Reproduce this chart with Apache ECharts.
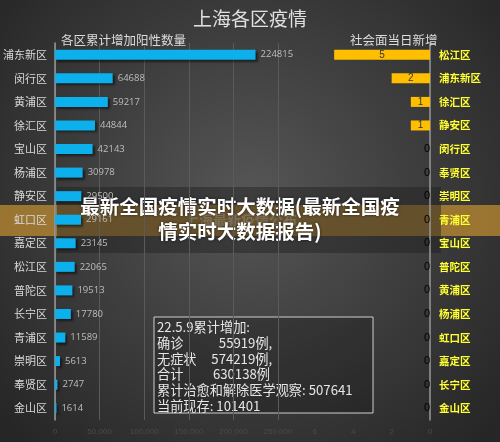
<!DOCTYPE html>
<html><head><meta charset="utf-8">
<script src="https://cdn.jsdelivr.net/npm/echarts@6/dist/echarts.min.js"></script>
<style>html,body{margin:0;padding:0;}#c{width:500px;height:442px;}</style>
</head><body><div id="c"></div>
<script>
const leftCats = ['浦东新区','闵行区','黄浦区','徐汇区','宝山区','杨浦区','静安区','虹口区','嘉定区','松江区','普陀区','长宁区','青浦区','崇明区','奉贤区','金山区'];
const leftVals = [224815,64688,59217,44844,42143,30978,29500,29161,23145,22065,19513,17780,11589,5613,2747,1614];
const rightCats = ['松江区','浦东新区','徐汇区','静安区','闵行区','奉贤区','崇明区','青浦区','宝山区','普陀区','黄浦区','杨浦区','虹口区','嘉定区','长宁区','金山区'];
const rightVals = [5,2,1,1,0,0,0,0,0,0,0,0,0,0,0,0];
const infoLines = ['22.5.9累计增加:','确诊            55919例,','无症状     574219例,','合计          630138例','累计治愈和解除医学观察: 507641','当前现存: 101401'];
const font = '"Noto Sans CJK SC", sans-serif';
const chart = echarts.init(document.getElementById('c'));
chart.setOption({
  backgroundColor: {type:'radial',x:0.5,y:0.45,r:0.75,colorStops:[{offset:0,color:'#565656'},{offset:1,color:'#262626'}]},
  title: [
    {text:'上海各区疫情',left:'center',top:4,textStyle:{color:'#e0e0e0',fontSize:19,fontFamily:font,fontWeight:'normal'}},
    {text:'各区累计增加阳性数量',left:56,top:29,textStyle:{color:'#dcdcdc',fontSize:12.5,fontFamily:font,fontWeight:'normal'}},
    {text:'社会面当日新增',left:345,top:29,textStyle:{color:'#dcdcdc',fontSize:12.5,fontFamily:font,fontWeight:'normal'}}
  ],
  grid: [
    {left:53,width:225,top:43,bottom:22,containLabel:false},
    {left:315,width:115,top:43,bottom:22}
  ],
  xAxis: [
    {gridIndex:0,type:'value',min:0,max:250000,interval:50000,splitLine:{lineStyle:{color:'#5a5a5a'}},axisLabel:{color:'#4a4a4a',fontSize:8}},
    {gridIndex:1,type:'value',min:0,max:6,interval:2,inverse:true,splitLine:{show:false},axisLabel:{color:'#4a4a4a',fontSize:8}}
  ],
  yAxis: [
    {gridIndex:0,type:'category',data:leftCats,inverse:true,axisTick:{show:false},axisLine:{lineStyle:{color:'#999',width:1.5}},axisLabel:{color:'#d8d8d8',fontSize:11,fontFamily:font}},
    {gridIndex:1,type:'category',data:rightCats,inverse:true,position:'right',axisTick:{show:false},axisLine:{lineStyle:{color:'#999',width:1.5}},axisLabel:{color:'#ffff33',fontSize:10.5,fontWeight:'bold',fontFamily:font,margin:9}}
  ],
  series: [
    {type:'bar',xAxisIndex:0,yAxisIndex:0,data:leftVals,barWidth:10,itemStyle:{color:'#0bb0ec',shadowColor:'rgba(0,0,0,0.5)',shadowOffsetX:2,shadowOffsetY:2,shadowBlur:2},label:{show:true,position:'right',color:'#bdbdbd',fontSize:9.5,fontFamily:'"Open Sans", sans-serif'}},
    {type:'bar',xAxisIndex:1,yAxisIndex:1,barWidth:10,itemStyle:{color:'#ffbf00'},
     data:rightVals.map(v=>v===0?{value:v,label:{position:'left',distance:0,color:'#000',fontSize:11,textBorderWidth:0}}:v),
     label:{show:true,position:'inside',color:'#333',fontSize:10}},
  ],
  graphic: [
    {type:'rect',shape:{x:154,y:317,width:219,height:96},style:{fill:'rgba(0,0,0,0.2)',stroke:'#cfcfcf',lineWidth:1}},
    {type:'text',left:157,top:319,style:{text:infoLines.join('\n'),fill:'#e6e6e6',fontSize:13.2,lineHeight:15.8,fontFamily:font}},
    {type:'rect',shape:{x:0,y:205,width:500,height:31},style:{fill:'rgba(190,140,50,0.75)'}},
    {type:'rect',shape:{x:57,y:187,width:384,height:66},style:{fill:'rgba(30,30,30,0.45)'}},
    {type:'text',left:185,top:213,style:{text:'上海最新疫情公布',fill:'rgba(170,170,170,0.35)',fontSize:14,fontWeight:'bold',fontFamily:font}},
    {type:'text',x:240,y:219,style:{text:'最新全国疫情实时大数据(最新全国疫\n情实时大数据报告)',fill:'#fff',fontSize:19.5,fontWeight:'bold',lineHeight:25,align:'center',verticalAlign:'middle',fontFamily:font,textShadowColor:'rgba(0,0,0,0.6)',textShadowBlur:3}}
  ]
});
</script></body></html>
